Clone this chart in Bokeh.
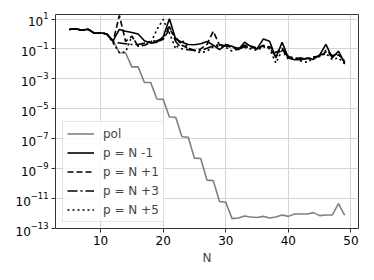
from bokeh.plotting import figure
from bokeh.models import Range1d, FixedTicker, Legend, LegendItem
from bokeh.embed import file_html
from bokeh.resources import INLINE

N = list(range(5, 50))

pol = [2.0, 2.24, 1.78, 2.09, 1.12, 1.2, 1.0,
       0.355, 0.0562, 0.0537, 6.31e-3, 6.31e-3, 5.75e-4, 5.75e-4, 4.47e-5, 4.27e-5,
       2.82e-6, 2.69e-6, 1.35e-7, 1.26e-7, 5.01e-9, 4.79e-9, 1.7e-10, 1.58e-10,
       6.31e-12, 5.62e-12, 4.57e-13, 5.01e-13, 6.76e-13, 5.89e-13, 5.37e-13, 6.46e-13,
       5.01e-13, 5.89e-13, 7.94e-13, 6.46e-13, 9.33e-13, 9.33e-13, 9.33e-13, 1.15e-12,
       7.24e-13, 7.94e-13, 7.94e-13, 4.57e-12, 7.59e-13]

p_nm1 = [2.0, 2.24, 1.78, 2.09, 1.12, 1.2, 1.0,
         0.355, 2.0, 1.51, 1.26, 1.0, 0.355, 0.251, 0.282, 0.631, 10.5, 0.447, 0.282,
         0.2, 0.19, 0.224, 0.316, 0.178, 0.089, 0.19, 0.151, 0.089, 0.282, 0.141, 0.1,
         0.468, 0.324, 0.0251, 0.282, 0.0251, 0.019, 0.019, 0.0251, 0.02, 0.04, 0.2,
         0.0251, 0.0708, 0.0112]

p_np1 = [2.0, 2.24, 1.78, 2.09, 1.12, 1.2, 1.0,
         0.316, 17.0, 0.316, 0.708, 0.151, 0.178, 0.251, 0.282, 0.447, 2.0, 0.631,
         0.178, 0.112, 0.0794, 0.1, 0.2, 1.51, 0.178, 0.2, 0.141, 0.112, 0.178, 0.158,
         0.112, 0.158, 0.141, 0.0562, 0.112, 0.0316, 0.0251, 0.02, 0.0224, 0.0282,
         0.0316, 0.0631, 0.0316, 0.0398, 0.0178]

p_np3 = [2.0, 2.24, 1.78, 2.09, 1.12, 1.2, 1.0,
         0.282, 0.251, 0.224, 0.2, 0.2, 0.251, 0.316, 0.355, 0.5, 3.16, 0.316, 0.1,
         0.089, 0.0794, 0.0794, 0.112, 0.158, 0.2, 0.158, 0.126, 0.1, 0.141, 0.126,
         0.1, 0.178, 0.112, 0.0316, 0.1, 0.0251, 0.0224, 0.0251, 0.02, 0.0282, 0.0355,
         0.0794, 0.0355, 0.05, 0.0126]

p_np5 = [2.0, 2.24, 1.78, 2.09, 1.12, 1.2, 1.0,
         0.251, 0.0562, 0.0631, 0.708, 0.158, 0.2, 0.251, 2.0, 9.33, 1.12, 0.1, 0.398,
         0.112, 0.0794, 0.0562, 0.0708, 0.141, 0.158, 0.126, 0.0708, 0.1, 0.126, 0.1,
         0.0794, 0.141, 0.1, 0.0112, 0.0794, 0.02, 0.0251, 0.0158, 0.0126, 0.0251,
         0.0316, 0.05, 0.02, 0.0251, 0.01]

labels = ["pol", "p = N -1", "p = N +1", "p = N +3", "p = N +5"]
x_ticks = [10, 20, 30, 40, 50]
y_ticks = [1e1, 1e-1, 1e-3, 1e-5, 1e-7, 1e-9, 1e-11, 1e-13]

FONT = "DejaVu Sans"

p = figure(width=365, height=271,
           y_axis_type="log", x_range=Range1d(2.8, 51.2), y_range=Range1d(1e-13, 20),
           output_backend="svg", toolbar_location=None,
           min_border_left=55, min_border_right=7, min_border_top=14, min_border_bottom=43)

p.background_fill_color = "white"
p.border_fill_color = "white"
p.outline_line_color = "#333333"
p.outline_line_width = 1

p.xaxis.ticker = FixedTicker(ticks=x_ticks)
p.yaxis.ticker = FixedTicker(ticks=y_ticks)
for ax in (p.xaxis[0], p.yaxis[0]):
    ax.axis_line_color = None
    ax.major_tick_line_color = "#333333"
    ax.major_tick_in = 0
    ax.major_tick_out = 4
    ax.minor_tick_line_color = None
    ax.major_label_text_font = FONT
    ax.major_label_text_font_size = "12px"
    ax.major_label_text_color = "black"
    ax.major_label_standoff = 3
p.xaxis.axis_label = "N"
p.xaxis.axis_label_text_font = FONT
p.xaxis.axis_label_text_font_size = "12px"
p.xaxis.axis_label_text_font_style = "normal"
p.xaxis.axis_label_standoff = 3

p.xgrid.ticker = FixedTicker(ticks=x_ticks)
p.ygrid.ticker = FixedTicker(ticks=y_ticks)
p.grid.grid_line_color = "#d5d5d5"
p.grid.grid_line_width = 1

lw = 1.6
r0 = p.line(N, pol, line_color="#808080", line_width=lw)
r1 = p.line(N, p_nm1, line_color="black", line_width=lw)
r2 = p.line(N, p_np1, line_color="black", line_width=lw, line_dash="6 3")
r3 = p.line(N, p_np3, line_color="black", line_width=lw, line_dash="10 3 2 3")
r4 = p.line(N, p_np5, line_color="black", line_width=lw, line_dash="2 3")

items = [LegendItem(label=l, renderers=[r]) for l, r in zip(labels, [r0, r1, r2, r3, r4])]
legend = Legend(items=items, location=(7, 6), orientation="vertical",
                label_text_font=FONT, label_text_font_size="12px",
                label_height=15, glyph_height=15, glyph_width=27, spacing=4,
                label_standoff=9, padding=4, margin=0,
                border_line_color="#cccccc", border_line_width=1,
                background_fill_color="white", background_fill_alpha=0.8)
p.add_layout(legend, "center")

open("out.html", "w").write(file_html(p, INLINE))
